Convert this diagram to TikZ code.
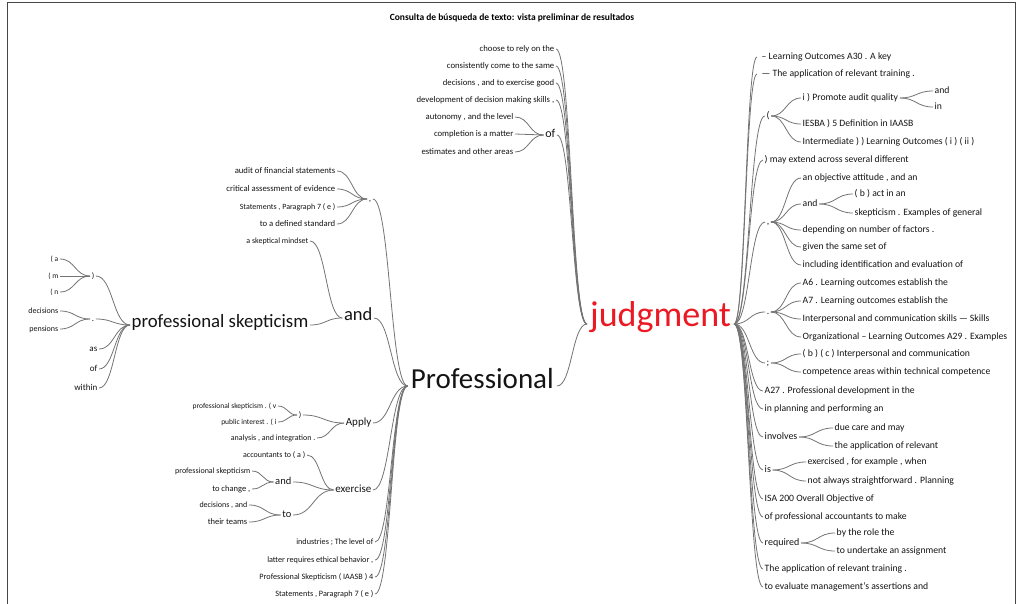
\documentclass[tikz,border=0pt]{standalone}
\usepackage{fontspec}
\setmainfont{Carlito}
\usetikzlibrary{calc}
\definecolor{linkgray}{RGB}{115,115,115}
\definecolor{jred}{RGB}{235,25,35}
\definecolor{framegray}{RGB}{70,70,70}
\definecolor{txt}{RGB}{20,20,20}
\newcommand\wlink[2]{\draw[link] let \p1=(#1), \p2=(#2) in (\p1) .. controls ({(\x1+\x2)/2},\y1) and ({(\x1+\x2)/2},\y2) .. (\p2);}
\tikzset{
  wbase/.style={inner xsep=1.5pt, inner ysep=0pt, text height=0.75em, text depth=0.2em, text=txt, font=\fontsize{#1}{#1}\selectfont},
  wl/.style={wbase=#1, anchor=east},
  wr/.style={wbase=#1, anchor=west},
  wc/.style={wbase=#1, anchor=center},
  link/.style={draw=linkgray, line width=0.8pt},
}
\begin{document}
\begin{tikzpicture}[x=1pt,y=-1pt]
\useasboundingbox (0,0) rectangle (1022,604);
\draw[framegray, line width=1pt] (7,604) -- (7,3) -- (1015,3) -- (1015,604);
\node[font=\bfseries\fontsize{9.5}{10}\selectfont] (title) at (512,18) {Consulta de búsqueda de texto: vista preliminar de resultados};

% root
\node[wr=36, text=jred, inner xsep=3pt] (J) at (587,324) {judgment};
\node[wl=29, inner xsep=3pt] (P) at (557,386) {Professional};

% top group
\node[wl=8.7] (c1) at (556,49) {choose to rely on the};
\node[wl=8.7] (c2) at (556,66) {consistently come to the same};
\node[wl=8.7] (c3) at (556,83) {decisions , and to exercise good};
\node[wl=8.7] (c4) at (556,100) {development of decision making skills ,};
\node[wl=12] (of1) at (557,135) {of};
\node[wl=8.7] (o1) at (515,117) {autonomy , and the level};
\node[wl=8.7] (o2) at (515,134) {completion is a matter};
\node[wl=8.7] (o3) at (515,152) {estimates and other areas};

% comma group
\node[wc=9] (cm) at (370,199) {,};
\node[wl=8.7] (a1) at (337,171) {audit of financial statements};
\node[wl=8.7] (a2) at (337,189) {critical assessment of evidence};
\node[wl=8] (a3) at (337,207) {Statements , Paragraph 7 ( e )};
\node[wl=8.7] (a4) at (337,224) {to a defined standard};

% and group
\node[wl=18.5] (and1) at (374,318) {and};
\node[wl=18.8] (ps) at (310,325) {professional skepticism};
\node[wl=8] (sm) at (310,241) {a skeptical mindset};
\node[wc=8] (rp1) at (93,276) {)};
\node[wc=9] (dot1) at (93,319) {.};
\node[wl=9] (as) at (99,349) {as};
\node[wl=9] (of2) at (99,369) {of};
\node[wl=9] (wi) at (99,388) {within};
\node[wl=7.5] (pa) at (60,259) {( a};
\node[wl=7.5] (pm) at (60,276) {( m};
\node[wl=7.5] (pn) at (60,292) {( n};
\node[wl=8] (de) at (60,311) {decisions};
\node[wl=8] (pe) at (60,329) {pensions};

% Apply group
\node[wl=11] (ap) at (373,423) {Apply};
\node[wc=8] (rp2) at (300,415) {)};
\node[wl=8] (an) at (317,438) {analysis , and integration .};
\node[wl=7.5] (psv) at (278,406) {professional skepticism . ( v};
\node[wl=7.5] (pi) at (278,422) {public interest . ( i};

% exercise group
\node[wl=11] (ex) at (373,490) {exercise};
\node[wl=8] (ac) at (307,455) {accountants to ( a )};
\node[wl=10.5] (and2) at (293,482) {and};
\node[wl=10.5] (to1) at (293,515) {to};
\node[wl=8] (ps2) at (252,471) {professional skepticism};
\node[wl=8.5] (tc) at (252,489) {to change ,};
\node[wl=8] (dea) at (249,505) {decisions , and};
\node[wl=8.5] (tt) at (249,522) {their teams};

% bottom left
\node[wl=8.2] (b1) at (375,542) {industries ; The level of};
\node[wl=8.2] (b2) at (375,560) {latter requires ethical behavior ,};
\node[wl=8.2] (b3) at (375,577) {Professional Skepticism ( IAASB ) 4};
\node[wl=8.2] (b4) at (375,594) {Statements , Paragraph 7 ( e )};

% right side
\node[wr=9.7, inner xsep=4.5pt] (r1) at (757,57) {– Learning Outcomes A30 . A key};
\node[wr=9.7, inner xsep=4.5pt] (r2) at (757,74) {— The application of relevant training .};
\node[wc=9.7] (lp) at (768,116) {(};
\node[wr=9.7] (pq) at (801,98) {i ) Promote audit quality};
\node[wr=9.7] (pqa) at (933,91) {and};
\node[wr=9.7] (pqi) at (933,107) {in};
\node[wr=9.7] (ie) at (801,124) {IESBA ) 5 Definition in IAASB};
\node[wr=9.7] (im) at (801,142) {Intermediate ) ) Learning Outcomes ( i ) ( ii )};
\node[wr=9.7] (r4) at (763,160) {) may extend across several different};
\node[wc=9.7] (rc) at (768,222) {,};
\node[wr=9.7] (ob) at (801,178) {an objective attitude , and an};
\node[wr=9.7] (and3) at (801,204) {and};
\node[wr=9.7] (ba) at (853,194) {( b ) act in an};
\node[wr=9.7] (sk) at (853,213) {skepticism . Examples of general};
\node[wr=9.7] (dep) at (801,230) {depending on number of factors .};
\node[wr=9.7] (giv) at (801,247) {given the same set of};
\node[wr=9.7] (inc) at (801,265) {including identification and evaluation of};
\node[wc=9.7] (rd) at (768,312) {.};
\node[wr=9.7] (a6) at (801,283) {A6 . Learning outcomes establish the};
\node[wr=9.7] (a7) at (801,301) {A7 . Learning outcomes establish the};
\node[wr=9.7] (ip) at (801,319) {Interpersonal and communication skills — Skills};
\node[wr=9.7] (org) at (801,337) {Organizational – Learning Outcomes A29 . Examples};
\node[wc=9.7] (rs) at (768,363) {;};
\node[wr=9.7] (bc) at (801,354) {( b ) ( c ) Interpersonal and communication};
\node[wr=9.7] (ca) at (801,372) {competence areas within technical competence};
\node[wr=9.7] (r8) at (763,391) {A27 . Professional development in the};
\node[wr=9.7] (r9) at (763,409) {in planning and performing an};
\node[wr=10] (inv) at (763,437) {involves};
\node[wr=9.7] (dc) at (833,428) {due care and may};
\node[wr=9.7] (ta) at (833,446) {the application of relevant};
\node[wr=10] (is) at (763,470) {is};
\node[wr=9.7] (exf) at (806,462) {exercised , for example , when};
\node[wr=9.7] (nas) at (806,481) {not always straightforward . Planning};
\node[wr=9.7] (r12) at (763,499) {ISA 200 Overall Objective of};
\node[wr=9.7] (r13) at (763,517) {of professional accountants to make};
\node[wr=10] (req) at (763,543) {required};
\node[wr=9.7] (br) at (835,533) {by the role the};
\node[wr=9.7] (tu) at (835,551) {to undertake an assignment};
\node[wr=9.7] (r15) at (763,569) {The application of relevant training .};
\node[wr=9.7] (r16) at (763,587) {to evaluate management's assertions and};

% left links (child.east -> parent.west)
\foreach \a/\b in {c1/J,c2/J,c3/J,c4/J,of1/J,P/J,
  o1/of1,o2/of1,o3/of1,
  cm/P,and1/P,ap/P,ex/P,b1/P,b2/P,b3/P,b4/P,
  a1/cm,a2/cm,a3/cm,a4/cm,
  ps/and1,sm/and1,
  rp1/ps,dot1/ps,as/ps,of2/ps,wi/ps,
  pa/rp1,pm/rp1,pn/rp1,de/dot1,pe/dot1,
  rp2/ap,an/ap,psv/rp2,pi/rp2,
  ac/ex,and2/ex,to1/ex,ps2/and2,tc/and2,dea/to1,tt/to1}
  {\wlink{\a.east}{\b.west}}

% right links (parent.east -> child.west)
\foreach \a/\b in {J/r1,J/r2,J/lp,J/r4,J/rc,J/rd,J/rs,J/r8,J/r9,J/inv,J/is,J/r12,J/r13,J/req,J/r15,J/r16,
  lp/pq,lp/ie,lp/im,pq/pqa,pq/pqi,
  rc/ob,rc/and3,rc/dep,rc/giv,rc/inc,and3/ba,and3/sk,
  rd/a6,rd/a7,rd/ip,rd/org,
  rs/bc,rs/ca,
  inv/dc,inv/ta,is/exf,is/nas,req/br,req/tu}
  {\wlink{\a.east}{\b.west}}
\end{tikzpicture}
\end{document}
